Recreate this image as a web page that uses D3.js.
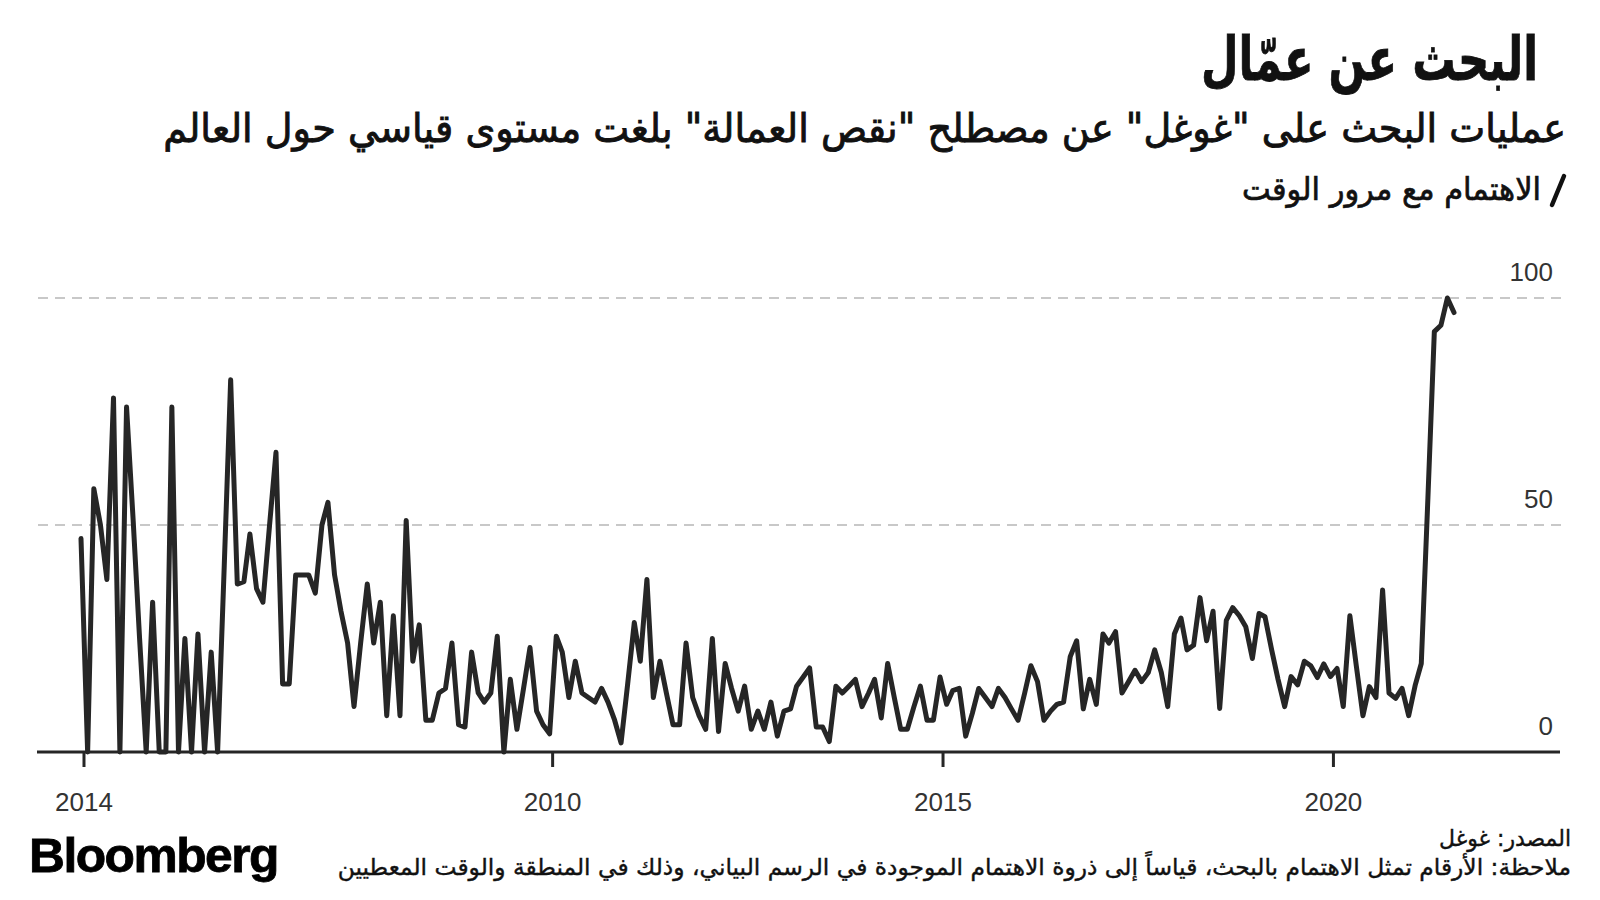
<!DOCTYPE html>
<html lang="ar">
<head>
<meta charset="UTF-8">
<title>البحث عن عمّال</title>
<script src="https://d3js.org/d3.v7.min.js"></script>
<style>
    body {
        margin: 0;
        background: #fff;
    }
    svg {
        display: block;
    }
    .ar {
        font-family: "DejaVu Sans", sans-serif;
        fill: #111;
    }
    .num {
        font-family: "Liberation Sans", Arial, sans-serif;
        font-size: 26px;
        fill: #333;
    }
</style>
</head>
<body>
<div id="chart"></div>
<script>
    // monthly search interest, Jan 2004 .. Aug 2021
    const startDate = new Date(2004, 0, 1);
    const interest = [
        47, 0, 58, 50, 38, 78, 0, 76, 51, 25, 0, 33,
        0, 0, 76, 0, 25, 0, 26, 0, 22, 0, 41, 82,
        37, 37.5, 48, 36, 33, 50, 66, 15, 15, 39, 39, 39,
        35, 50, 55, 39, 31, 24, 10, 24, 37, 24, 33, 8,
        30, 8, 51, 20, 28, 7, 7, 13, 14, 24, 6, 5.5,
        22, 13, 11, 13, 25.5, 0, 16, 5, 14, 23, 9, 6,
        4, 25.5, 22, 12, 20, 13, 12, 11, 14, 11, 7, 2,
        15, 28.5, 20, 38, 12, 20, 13, 6, 6, 24, 12, 8,
        5, 25, 4.5, 19.5, 14, 9, 14.5, 5, 9, 5, 11, 3.5,
        9, 9.5, 14.5, 16.5, 18.5, 5.5, 5.5, 2.3, 14.5, 13, 14.5, 16,
        10, 13, 16, 7.5, 19.5, 12, 5, 5, 10, 14.5, 7, 7,
        16.5, 10.5, 13.5, 14, 3.5, 8.5, 14, 12, 10, 14, 12, 9.5,
        7, 13, 19, 15.5, 7, 9, 10.5, 11, 21, 24.5, 9.5, 16,
        10.5, 26, 24, 26.5, 13, 15.5, 18, 15.5, 17.5, 22.5, 17.5, 10,
        26, 29.5, 22.5, 23.5, 34, 24.5, 31, 9.6, 29, 31.8, 30, 27.6,
        20.6, 30.5, 29.8, 22.5, 16, 10, 16.6, 14.8, 20, 19, 16.4, 19.4,
        16.6, 18.4, 10, 30, 19, 8, 14.4, 12, 35.7, 13, 11.8, 14,
        8, 14.8, 19.5, 56, 92.6, 94, 100, 96.8
    ];

    const yTicks = [0, 50, 100];
    const yGrid = [50, 100];
    const xTickYears = [2004, 2010, 2015, 2020];
    const xTickLabels = ["2014", "2010", "2015", "2020"];

    const title = "البحث عن عمّال";
    const subtitle = "عمليات البحث على \"غوغل\" عن مصطلح \"نقص العمالة\" بلغت مستوى قياسي حول العالم";
    const legendLabel = "الاهتمام مع مرور الوقت";
    const sourceText = "المصدر: غوغل";
    const noteText = "ملاحظة: الأرقام تمثل الاهتمام بالبحث، قياساً إلى ذروة الاهتمام الموجودة في الرسم البياني، وذلك في المنطقة والوقت المعطيين";

    const width = 1600;
    const height = 900;

    const data = interest.map((v, i) => ({ date: d3.timeMonth.offset(startDate, i), value: v }));

    const svg = d3.select("#chart")
        .append("svg")
        .attr("width", width)
        .attr("height", height);

    const x = d3.scaleTime()
        .domain([data[0].date, data[data.length - 1].date])
        .range([81, 1454]);

    const y = d3.scaleLinear()
        .domain([0, 100])
        .range([752, 298]);

    // squeeze a text into a given width, keeping its anchor fixed
    function fitWidth(sel, w) {
        const len = sel.node().getComputedTextLength();
        const tx = +sel.attr("x"), ty = +sel.attr("y");
        sel.attr("transform", `translate(${tx},${ty}) scale(${w / len},1) translate(${-tx},${-ty})`);
    }

    function arText(txt, xr, yb, size, weight, w, thick) {
        const t = svg.append("text")
            .attr("class", "ar")
            .attr("direction", "rtl")
            .attr("text-anchor", "start")
            .attr("x", xr)
            .attr("y", yb)
            .style("font-size", size + "px")
            .style("font-weight", weight)
            .text(txt);
        if (thick) {
            t.attr("stroke", "#111").attr("stroke-width", thick);
        }
        fitWidth(t, w);
        return t;
    }

    // header
    arText(title, 1538, 80, 60, "bold", 337, 0.8);
    arText(subtitle, 1566, 142, 40, "normal", 1403, 0.9);
    arText(legendLabel, 1541, 200, 32, "normal", 299, 0.7);

    svg.append("line")
        .attr("x1", 1564).attr("y1", 176)
        .attr("x2", 1552).attr("y2", 205)
        .attr("stroke", "#111")
        .attr("stroke-width", 4.5)
        .attr("stroke-linecap", "round");

    // gridlines
    svg.selectAll(".grid")
        .data(yGrid)
        .enter()
        .append("line")
        .attr("class", "grid")
        .attr("x1", 38)
        .attr("x2", 1565)
        .attr("y1", d => y(d))
        .attr("y2", d => y(d))
        .attr("stroke", "#c8c8c8")
        .attr("stroke-width", 2)
        .attr("stroke-dasharray", "10,7");

    // y labels
    svg.selectAll(".ylab")
        .data(yTicks)
        .enter()
        .append("text")
        .attr("class", "num")
        .attr("text-anchor", "end")
        .attr("x", 1553)
        .attr("y", d => y(d) - 17)
        .text(d => d);

    // x axis
    svg.append("line")
        .attr("x1", 37).attr("x2", 1560)
        .attr("y1", y(0)).attr("y2", y(0))
        .attr("stroke", "#262626")
        .attr("stroke-width", 3);

    const tickDates = xTickYears.map(yr => new Date(yr, 0, 15));

    svg.selectAll(".xtick")
        .data(tickDates)
        .enter()
        .append("line")
        .attr("x1", d => x(d)).attr("x2", d => x(d))
        .attr("y1", y(0)).attr("y2", y(0) + 15)
        .attr("stroke", "#262626")
        .attr("stroke-width", 3);

    svg.selectAll(".xlab")
        .data(tickDates)
        .enter()
        .append("text")
        .attr("class", "num")
        .attr("text-anchor", "middle")
        .attr("x", d => x(d))
        .attr("y", 811)
        .text((d, i) => xTickLabels[i]);

    // the series
    const line = d3.line()
        .x(d => x(d.date))
        .y(d => y(d.value));

    svg.append("path")
        .datum(data)
        .attr("d", line)
        .attr("fill", "none")
        .attr("stroke", "#262626")
        .attr("stroke-width", 5)
        .attr("stroke-linejoin", "round")
        .attr("stroke-linecap", "round");

    // footer
    arText(sourceText, 1571, 846, 23, "normal", 132, 0.4);
    arText(noteText, 1571, 875, 23, "normal", 1234, 0.4);

    const logo = svg.append("text")
        .attr("x", 29)
        .attr("y", 872)
        .style("font-family", "\"Liberation Sans\", Arial, sans-serif")
        .style("font-size", "49px")
        .style("font-weight", "bold")
        .style("letter-spacing", "-1.5px")
        .attr("fill", "#000")
        .attr("stroke", "#000")
        .attr("stroke-width", 0.8)
        .text("Bloomberg");
    fitWidth(logo, 249);
</script>
</body>
</html>
